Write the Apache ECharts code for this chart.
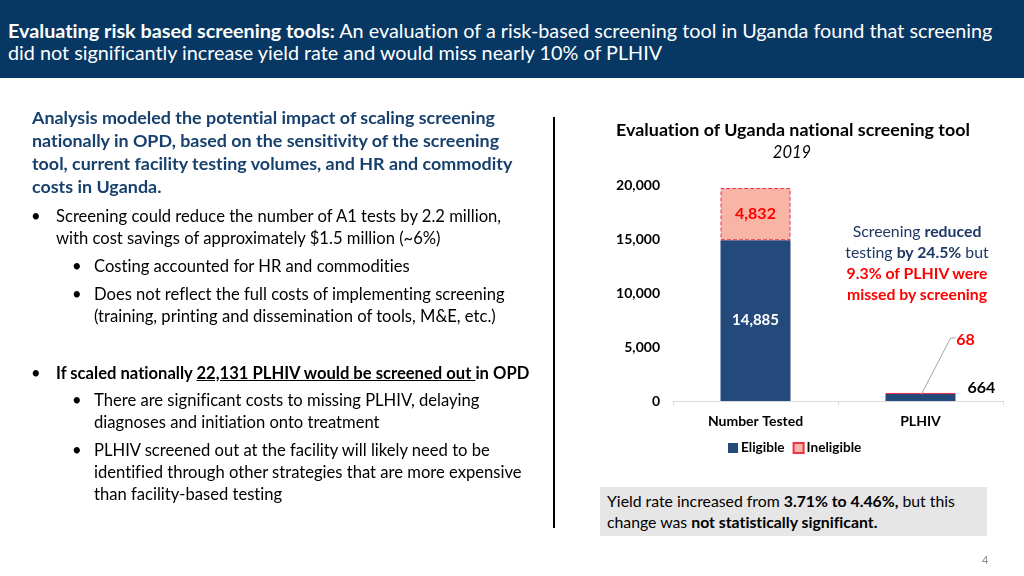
<!DOCTYPE html>
<html>
<head>
<meta charset="utf-8">
<script src="https://cdn.jsdelivr.net/npm/echarts@6/dist/echarts.min.js"></script>
<style>
  html, body { margin:0; padding:0; width:1024px; height:576px; overflow:hidden; background:#fff; font-family: Lato, "Open Sans", sans-serif; font-variant-ligatures: none; font-feature-settings: "liga" 0, "clig" 0; }
  #chart { position:absolute; left:0; top:0; width:1024px; height:576px; }
  .t { position:absolute; white-space:nowrap; pointer-events:none; }
  #header { position:absolute; left:0; top:0; width:1024px; height:78px; background:#073763; }
  #header .t { color:#fff; font-size:19.8px; line-height:21.5px; left:8px; top:20px; }
  .lt { color:#000; font-size:16.6px; line-height:22px; }
  .head { color:#17406D; font-weight:bold; font-size:17.9px; line-height:23px; left:32px; top:106px; }
  #divider { position:absolute; left:553px; top:117px; width:2px; height:411px; background:#000; }
  #ctitle { position:absolute; left:593px; width:400px; top:118px; text-align:center; font-size:17.9px; font-weight:bold; color:#000; line-height:22px; }
  #csub { position:absolute; left:592px; width:400px; top:141px; text-align:center; font-size:16.5px; font-style:italic; color:#000; line-height:22px; }
  #annot { position:absolute; left:832px; width:170px; top:220px; text-align:center; font-size:15.8px; line-height:21px; color:#1F3864; }
  #box { position:absolute; left:600px; top:487px; width:387px; height:49px; background:#E7E6E6; }
  #box div { position:absolute; left:7px; top:3px; font-size:15.8px; line-height:21px; color:#000; white-space:nowrap; }
  #pg { position:absolute; left:982px; top:553px; font-size:11px; color:#888; }
</style>
</head>
<body>
<div id="chart"></div>
<div id="header"><div class="t"><b>Evaluating risk based screening tools:</b> An evaluation of a risk-based screening tool in Uganda found that screening<br>did not significantly increase yield rate and would miss nearly 10% of PLHIV</div></div>

<div class="t head">Analysis modeled the potential impact of scaling screening<br>nationally in OPD, based on the sensitivity of the screening<br>tool, current facility testing volumes, and HR and commodity<br>costs in Uganda.</div>

<div class="t lt" style="left:31px;top:205px;">•</div>
<div class="t lt" style="left:56px;top:205px;">Screening could reduce the number of A1 tests by 2.2 million,<br>with cost savings of approximately $1.5 million (~6%)</div>
<div class="t lt" style="left:72px;top:255px;">•</div>
<div class="t lt" style="left:94px;top:255px;">Costing accounted for HR and commodities</div>
<div class="t lt" style="left:72px;top:283px;">•</div>
<div class="t lt" style="left:94px;top:283px;">Does not reflect the full costs of implementing screening<br>(training, printing and dissemination of tools, M&amp;E, etc.)</div>
<div class="t lt" style="left:31px;top:362px;">•</div>
<div class="t lt" style="left:56px;top:362px;font-weight:bold;">If scaled nationally <u>22,131 PLHIV would be screened out </u>in OPD</div>
<div class="t lt" style="left:72px;top:389px;">•</div>
<div class="t lt" style="left:94px;top:389px;">There are significant costs to missing PLHIV, delaying<br>diagnoses and initiation onto treatment</div>
<div class="t lt" style="left:72px;top:439px;">•</div>
<div class="t lt" style="left:94px;top:439px;">PLHIV screened out at the facility will likely need to be<br>identified through other strategies that are more expensive<br>than facility-based testing</div>

<div id="divider"></div>
<div id="ctitle">Evaluation of Uganda national screening tool</div>
<div id="csub">2019</div>
<div id="annot">Screening <b>reduced</b><br>testing <b>by 24.5%</b> but<br><b style="color:#FF0000">9.3% of PLHIV were</b><br><b style="color:#FF0000">missed by screening</b></div>
<div id="box"><div>Yield rate increased from <b>3.71% to 4.46%,</b> but this<br>change was <b>not statistically significant.</b></div></div>
<div id="pg">4</div>

<script>
var categories = ['Number Tested', 'PLHIV'];
var eligible = [14885, 664];
var ineligible = [4832, 68];
var yTicks = [0, 5000, 10000, 15000, 20000];

var chart = echarts.init(document.getElementById('chart'), null, {renderer:'canvas'});
var FONT = 'Lato, "Open Sans", sans-serif';
function fmt(v){ return Number(v).toLocaleString('en-US'); }

var eligibleData = eligible.map(function(v, i){
  if (i === 1) return { value: v, label: { position: 'right', color: '#000', fontSize: 16, distance: 12, offset: [0, -10] } };
  return { value: v };
});
var ineligibleData = ineligible.map(function(v){ return { value: v }; });
// leader line anchor for the small PLHIV ineligible segment (stack top)
var leaderData = [[1, eligible[1] + ineligible[1]]];

chart.setOption({
  animation: false,
  legend: {
    data: ['Eligible', 'Ineligible'],
    left: 723, top: 436, itemWidth: 10, itemHeight: 10, itemGap: 8,
    icon: 'rect',
    textStyle: { fontFamily: FONT, fontSize: 13.6, fontWeight: 'bold', color: '#000', padding: [0,0,0,-2] }
  },
  grid: { left: 673, right: 21, top: 185, bottom: 175, containLabel: false },
  xAxis: {
    type: 'category', data: categories,
    axisLine: { lineStyle: { color: '#D9D9D9' } },
    axisTick: { show: true, length: 4, lineStyle: { color: '#D9D9D9' } },
    axisLabel: { fontFamily: FONT, fontSize: 14, fontWeight: 'bold', color: '#000', margin: 13 }
  },
  yAxis: {
    type: 'value', min: 0, max: 20000, interval: 5000,
    splitLine: { show: false }, axisLine: { show: false }, axisTick: { show: false },
    axisLabel: { fontFamily: FONT, fontSize: 14, fontWeight: 'bold', color: '#000', margin: 13, formatter: fmt }
  },
  series: [
    {
      name: 'Eligible', type: 'bar', stack: 'a', barWidth: 70,
      data: eligibleData,
      itemStyle: { color: '#244A7C' },
      label: { show: true, position: 'inside', color: '#fff', fontFamily: FONT, fontSize: 15, fontWeight: 'bold', formatter: function(p){ return fmt(p.value); } }
    },
    {
      name: 'Ineligible', type: 'bar', stack: 'a', barWidth: 70,
      data: ineligibleData,
      itemStyle: { color: '#F8B5A6', borderColor: '#E8334A', borderType: 'dashed', borderWidth: 1 },
      label: { show: true, position: 'inside', color: '#FF0000', fontFamily: FONT, fontSize: 16, fontWeight: 'bold', formatter: function(p){ return fmt(p.value); } },
      labelLayout: function(p){ return p.dataIndex === 1 ? { dx: 45, dy: -54 } : {}; }
    },
    {
      name: 'leader', type: 'custom', silent: true, z: 5,
      data: leaderData,
      renderItem: function(params, api){
        var p = api.coord([api.value(0), api.value(1)]);
        return {
          type: 'polyline',
          shape: { points: [[p[0] + 1, p[1] + 1], [p[0] + 30, p[1] - 55], [p[0] + 35, p[1] - 55]] },
          style: { stroke: '#A6A6A6', lineWidth: 1, fill: null }
        };
      }
    }
  ]
});
</script>
</body>
</html>
